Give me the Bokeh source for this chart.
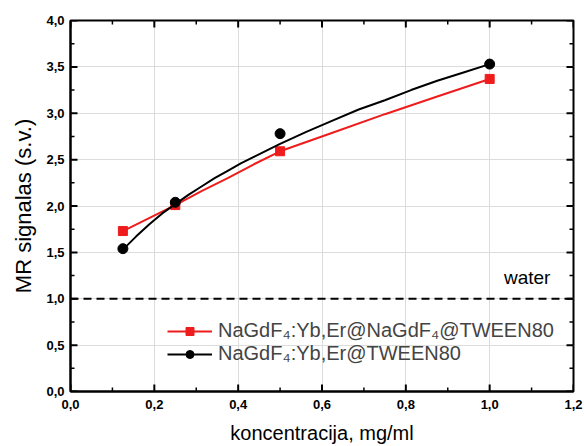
from bokeh.plotting import figure
from bokeh.models import (Range1d, FixedTicker, CustomJSTickFormatter,
                          Legend, LegendItem, Span, Label)
from bokeh.embed import file_html
from bokeh.resources import INLINE

# data
conc = [0.125, 0.25, 0.5, 1.0]
red_vals = [1.73, 2.01, 2.59, 3.37]
black_vals = [1.54, 2.04, 2.78, 3.53]
fit_x = [0.125, 0.15625, 0.1875, 0.21875, 0.25, 0.28125, 0.3125, 0.34375, 0.375, 0.40625,
         0.4375, 0.46875, 0.5, 0.5625, 0.625, 0.6875, 0.75, 0.8125, 0.875, 0.9375, 1.0]
black_fit = [1.53, 1.67, 1.80, 1.92, 2.02, 2.12, 2.21, 2.30, 2.38, 2.46,
             2.53, 2.60, 2.67, 2.80, 2.92, 3.04, 3.14, 3.25, 3.35, 3.44, 3.53]
red_fit_x = [0.125, 0.1875, 0.25, 0.3125, 0.375, 0.4375, 0.5, 0.625, 0.75, 0.875, 1.0]
red_fit = [1.73, 1.87, 2.01, 2.16, 2.30, 2.45, 2.59, 2.79, 2.99, 3.18, 3.37]
water_level = 1.0
labels = ["NaGdF\u2084:Yb,Er@NaGdF\u2084@TWEEN80", "NaGdF\u2084:Yb,Er@TWEEN80"]

# tick positions
x_major = [0.0, 0.2, 0.4, 0.6, 0.8, 1.0, 1.2]
x_minor = [0.1, 0.3, 0.5, 0.7, 0.9, 1.1]
y_major = [0.0, 0.5, 1.0, 1.5, 2.0, 2.5, 3.0, 3.5, 4.0]
y_minor = [0.25, 0.75, 1.25, 1.75, 2.25, 2.75, 3.25, 3.75]
X_MIN, X_MAX, Y_MIN, Y_MAX = 0.0, 1.2, 0.0, 4.0

W, H = 584, 446
BL, BR, BT, BB = 70, 11, 20, 54
FONT = "Liberation Sans"

p = figure(width=W, height=H, output_backend="svg", toolbar_location=None,
           x_range=Range1d(X_MIN, X_MAX), y_range=Range1d(Y_MIN, Y_MAX),
           min_border_left=BL, min_border_right=BR, min_border_top=BT, min_border_bottom=BB)
p.outline_line_color = "black"
p.outline_line_width = 2

fmt = CustomJSTickFormatter(code="return tick.toFixed(1).replace('.', ',');")
xt = FixedTicker(ticks=x_major, minor_ticks=x_minor)
yt = FixedTicker(ticks=y_major, minor_ticks=y_minor)

def mk(ax, ticker):
    ax.ticker = ticker
    ax.formatter = fmt
    ax.axis_line_width = 2
    ax.axis_line_color = "black"
    ax.major_tick_in = 0
    ax.major_tick_out = 0
    ax.minor_tick_in = 0
    ax.minor_tick_out = 0
    ax.major_label_text_font = FONT
    ax.major_label_text_font_style = "bold"
    ax.major_label_text_font_size = "13px"
    ax.major_label_text_color = "black"

bx = p.xaxis[0]
ly = p.yaxis[0]
mk(bx, xt)
mk(ly, yt)
bx.major_label_standoff = 8
bx.axis_label = "koncentracija, mg/ml"
bx.axis_label_text_font = FONT
bx.axis_label_text_font_style = "normal"
bx.axis_label_text_font_size = "20px"
bx.axis_label_text_color = "black"
bx.axis_label_standoff = 10
ly.major_label_standoff = 6
ly.axis_label = "MR signalas (s.v.)"
ly.axis_label_text_font = FONT
ly.axis_label_text_font_style = "normal"
ly.axis_label_text_font_size = "22px"
ly.axis_label_text_color = "black"
ly.axis_label_standoff = 7

p.xgrid.ticker = xt
p.ygrid.ticker = yt
p.xgrid.grid_line_color = "#dcdcdc"
p.ygrid.grid_line_color = "#dcdcdc"

# inward tick marks on all four sides, drawn as short segments
px_x = (X_MAX - X_MIN) / (W - BL - BR)   # data units per pixel, x
px_y = (Y_MAX - Y_MIN) / (H - BT - BB)   # data units per pixel, y
MAJ, MIN = 7, 4
for edge, sign in ((Y_MIN, 1), (Y_MAX, -1)):
    p.segment(x0=x_major, y0=[edge] * len(x_major), x1=x_major,
              y1=[edge + sign * MAJ * px_y] * len(x_major), line_color="black", line_width=2)
    p.segment(x0=x_minor, y0=[edge] * len(x_minor), x1=x_minor,
              y1=[edge + sign * MIN * px_y] * len(x_minor), line_color="black", line_width=1.5)
for edge, sign in ((X_MIN, 1), (X_MAX, -1)):
    p.segment(x0=[edge] * len(y_major), y0=y_major, x1=[edge + sign * MAJ * px_x] * len(y_major),
              y1=y_major, line_color="black", line_width=2)
    p.segment(x0=[edge] * len(y_minor), y0=y_minor, x1=[edge + sign * MIN * px_x] * len(y_minor),
              y1=y_minor, line_color="black", line_width=1.5)

p.add_layout(Span(location=water_level, dimension="width", line_color="black",
                  line_width=2, line_dash="8 5"))
p.add_layout(Label(x=1.145, y=1.23, text="water", text_font=FONT, text_font_size="19px",
                   text_align="right", text_baseline="middle", text_color="black"))

rl = p.line(red_fit_x, red_fit, line_color="#ee1c1c", line_width=2)
rs = p.scatter(conc, red_vals, marker="square", size=9, fill_color="#ee1c1c", line_color="#ee1c1c")
bl = p.line(fit_x, black_fit, line_color="black", line_width=2)
bs = p.scatter(conc, black_vals, marker="circle", size=10, fill_color="black", line_color="black")

legend = Legend(items=[LegendItem(label=labels[0], renderers=[rl, rs]),
                       LegendItem(label=labels[1], renderers=[bl, bs])],
                location=(97, 26), background_fill_alpha=0, border_line_alpha=0,
                label_text_font=FONT, label_text_font_size="20px",
                glyph_width=45, glyph_height=20, label_height=20, spacing=0,
                padding=0, margin=0, label_standoff=6)
p.add_layout(legend, "center")

open("out.html", "w").write(file_html(p, INLINE))
